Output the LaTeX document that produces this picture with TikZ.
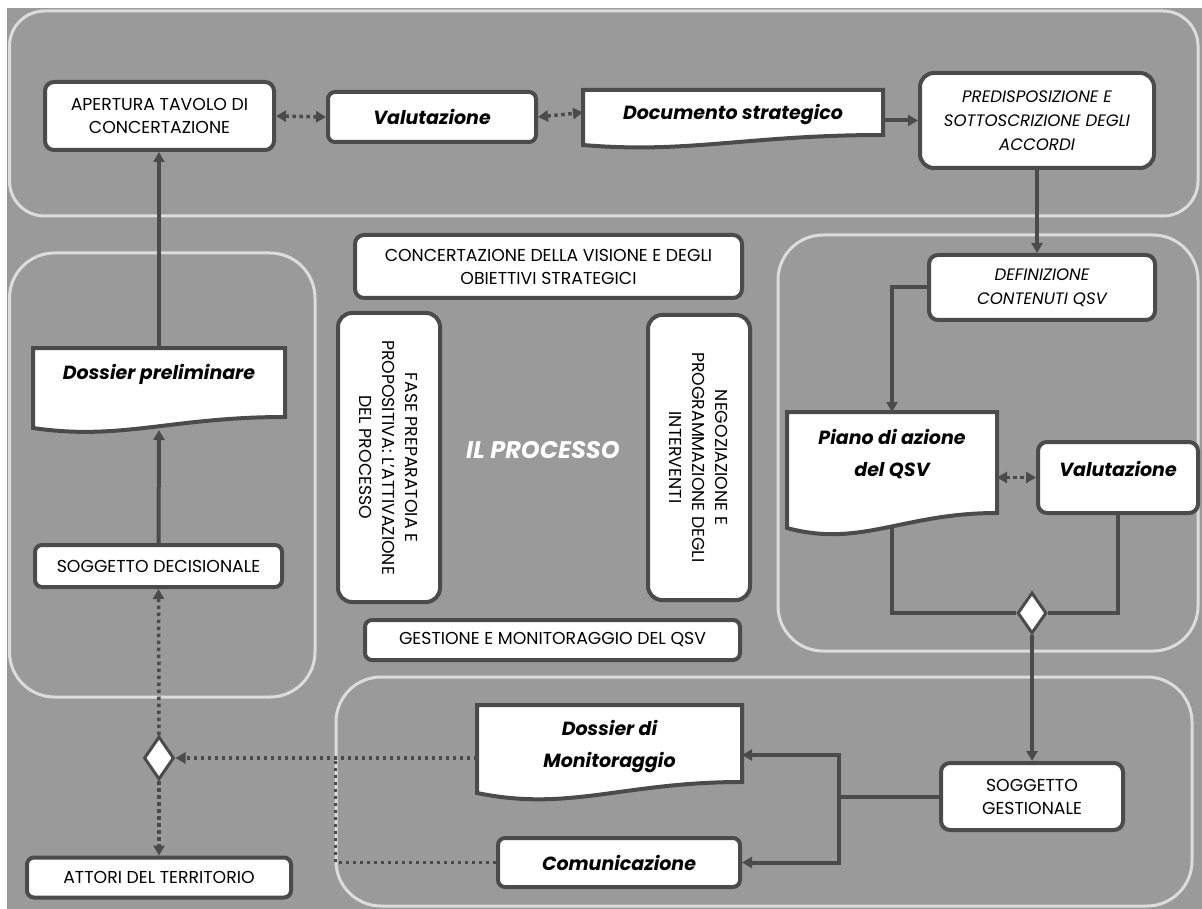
\documentclass[tikz,border=0pt]{standalone}
\usepackage{fontspec}
\setmainfont{Poppins}
\usetikzlibrary{arrows.meta,shapes.geometric,calc}

\definecolor{canvasgray}{HTML}{9A9A9A}
\definecolor{inkgray}{HTML}{4B4B4B}
\definecolor{lanegray}{HTML}{DCDCDC}

\pgfdeclarelayer{lanes}
\pgfdeclarelayer{wires}
\pgfdeclarelayer{sheets}
\pgfsetlayers{lanes,wires,sheets,main}

\newcommand{\txtcaps}{\fontsize{17.3}{23}\selectfont}
\newcommand{\txtital}{\fontsize{16.6}{24}\selectfont\itshape}
\newcommand{\txtemph}{\fontsize{19}{32}\selectfont\bfseries\itshape}

% paper sheet with a wavy lower edge, drawn round a named node
\newcommand{\sheetshape}[3]{%
  \begin{pgfonlayer}{sheets}
    \draw[sheet] (#1.north west) -- (#1.north east) -- (#1.south east)
      .. controls ($(#1.south east)!0.45!(#1.south west)$) and ($(#1.south west)!0.35!(#1.south east)+(0,#3)$)
      .. ($(#1.south west)+(0,#2)$) -- cycle;
  \end{pgfonlayer}}

\tikzset{
  lane/.style={draw=lanegray, line width=3pt, rounded corners=45pt},
  card/.style={draw=inkgray, fill=white, line width=4pt, rounded corners=9pt,
    align=center, inner sep=0pt, font=\txtcaps},
  sheet/.style={draw=inkgray, fill=white, line width=4pt, line join=miter},
  sheetbox/.style={rectangle, draw=none, inner sep=0pt, outer sep=0pt},
  sheetlabel/.style={align=center, font=\txtemph},
  gate/.style={diamond, draw=inkgray, fill=white, line width=3pt, inner sep=0pt,
    minimum width=30pt, minimum height=43pt},
  wire/.style={draw=inkgray, line width=4pt},
  dotwire/.style={draw=inkgray, line width=3.5pt, dash pattern=on 3.5pt off 3.5pt},
  tip/.style={-{Triangle[length=10pt,width=11pt]}},
  twotips/.style={{Triangle[length=10pt,width=11pt]}-{Triangle[length=10pt,width=11pt]}}
}

\begin{document}
\begin{tikzpicture}[x=1pt,y=-1pt]
\useasboundingbox (0,0) rectangle (1202,909);

% backdrop and swim lanes
\begin{pgfonlayer}{lanes}
  \fill[white] (0,0) rectangle (1202,909);
  \fill[canvasgray] (7,8) rectangle (1202,909);
  \draw[lane, rounded corners=35pt] (9.5,11) rectangle (1198,216);
  \draw[lane] (9.5,253) rectangle (315,697);
  \draw[lane] (778,235) rectangle (1198,651);
  \draw[lane] (336,677) rectangle (1192,906);
\end{pgfonlayer}

% upper row
\node[card, minimum width=229pt, minimum height=68pt] (apertura) at (159.5,116)
  {APERTURA TAVOLO DI\\CONCERTAZIONE};
\node[card, rounded corners=7pt, minimum width=208pt, minimum height=50pt, font=\txtemph] (valut1) at (432,117)
  {Valutazione};
\node[sheetbox, minimum width=300pt, minimum height=45pt,
  label={[sheetlabel, yshift=-2.5pt]center:Documento strategico}] (documento) at (733,112.5) {};
\sheetshape{documento}{10}{19}
\node[card, rounded corners=14pt, minimum width=234pt, minimum height=95pt, font=\txtital] (predisp) at (1037,120.5)
  {PREDISPOSIZIONE E\\SOTTOSCRIZIONE DEGLI\\ACCORDI};

% left lane
\node[sheetbox, minimum width=252pt, minimum height=69pt,
  label={[sheetlabel, yshift=8.5pt]center:Dossier preliminare}] (dossier) at (159,382.5) {};
\sheetshape{dossier}{11}{24}
\node[card, rounded corners=7pt, minimum width=247pt, minimum height=42pt] (sogdec) at (158.5,566)
  {SOGGETTO DECISIONALE};
\node[gate] (gateL) at (159,758) {};
\node[card, rounded corners=7pt, minimum width=264pt, minimum height=40pt] (attori) at (159,877.5)
  {ATTORI DEL TERRITORIO};

% centre
\node[card, minimum width=387pt, minimum height=63pt] (concert) at (548.5,266.5)
  {CONCERTAZIONE DELLA VISIONE E DEGLI\\OBIETTIVI STRATEGICI};
\node[card, rounded corners=14pt, rotate=-90, minimum width=289pt, minimum height=102pt] (fase) at (389,457.5)
  {FASE PREPARATOIA E\\PROPOSITIVA: L'ATTIVAZIONE\\DEL PROCESSO};
\node[card, rounded corners=14pt, rotate=-90, minimum width=285pt, minimum height=102pt] (negoz) at (699,457.5)
  {NEGOZIAZIONE E\\PROGRAMMAZIONE DEGLI\\INTERVENTI};
\node[text=white, font=\fontsize{24}{28}\selectfont\bfseries\itshape] (processo) at (543,450) {IL PROCESSO};
\node[card, rounded corners=7pt, minimum width=375pt, minimum height=40pt] (gestione) at (552.5,640)
  {GESTIONE E MONITORAGGIO DEL QSV};

% right lane
\node[card, minimum width=226pt, minimum height=65pt, font=\txtital] (definizione) at (1042,287.5)
  {DEFINIZIONE\\CONTENUTI QSV};
\node[sheetbox, minimum width=210pt, minimum height=101pt,
  label={[sheetlabel, yshift=8.5pt]center:Piano di azione\\del QSV}] (piano) at (892,462.5) {};
\sheetshape{piano}{15}{35}
\node[card, minimum width=160pt, minimum height=71pt,
  label={[sheetlabel, yshift=9pt]center:Valutazione}] (valut2) at (1118,477.5) {};
\node[gate, minimum width=29pt, minimum height=41pt] (gateR) at (1032,613) {};

% lower lane
\node[card, minimum width=182pt, minimum height=67pt] (sogges) at (1032,796.5)
  {SOGGETTO\\GESTIONALE};
\node[sheetbox, minimum width=265pt, minimum height=77pt,
  label={[sheetlabel, yshift=-2.5pt]center:Dossier di\\Monitoraggio}] (monitor) at (609.5,743.5) {};
\sheetshape{monitor}{11}{30}
\node[card, rounded corners=7pt, minimum width=242pt, minimum height=49pt, font=\txtemph] (comun) at (619,862.5)
  {Comunicazione};

\coordinate (split) at ($(sogges.west)+(-100,0)$);
\coordinate (merge) at ($(gateL.east)+(160,0)$);

% connectors
\begin{pgfonlayer}{wires}
  \draw[dotwire, twotips] (apertura.east) -- (valut1.west);
  \draw[dotwire, twotips] (valut1.east) -- (documento.west);
  \draw[wire, tip] (predisp.west -| documento.east) -- (predisp.west);
  \draw[wire, tip] (predisp.south) -- (predisp.south |- definizione.north);
  \draw[wire, tip] (definizione.west) -| (piano.north);
  \draw[dotwire, twotips] (piano.east |- valut2.west) -- (valut2.west);
  \draw[wire] (piano.south) |- (gateR.west);
  \draw[wire] (valut2.south) |- (gateR.east);
  \draw[wire, tip] (gateR.south) -- (sogges.north);
  \draw[wire] (sogges.west) -- (split);
  \draw[wire, tip] (split) |- ($(monitor.east)+(0,11.5)$);
  \draw[wire, tip] (split) |- (comun.east);
  \draw[dotwire, tip] (monitor.west |- gateL.east) -- (gateL.east);
  \draw[dotwire] (comun.west) -| (merge);
  \draw[dotwire, tip] (gateL.north) -- (sogdec.south);
  \draw[dotwire, tip] (gateL.south) -- (attori.north);
  \draw[wire, tip] (sogdec.north) -- ($(dossier.south)+(0,13)$);
  \draw[wire, tip] (dossier.north) -- (dossier.north |- apertura.south);
\end{pgfonlayer}
\end{tikzpicture}
\end{document}
